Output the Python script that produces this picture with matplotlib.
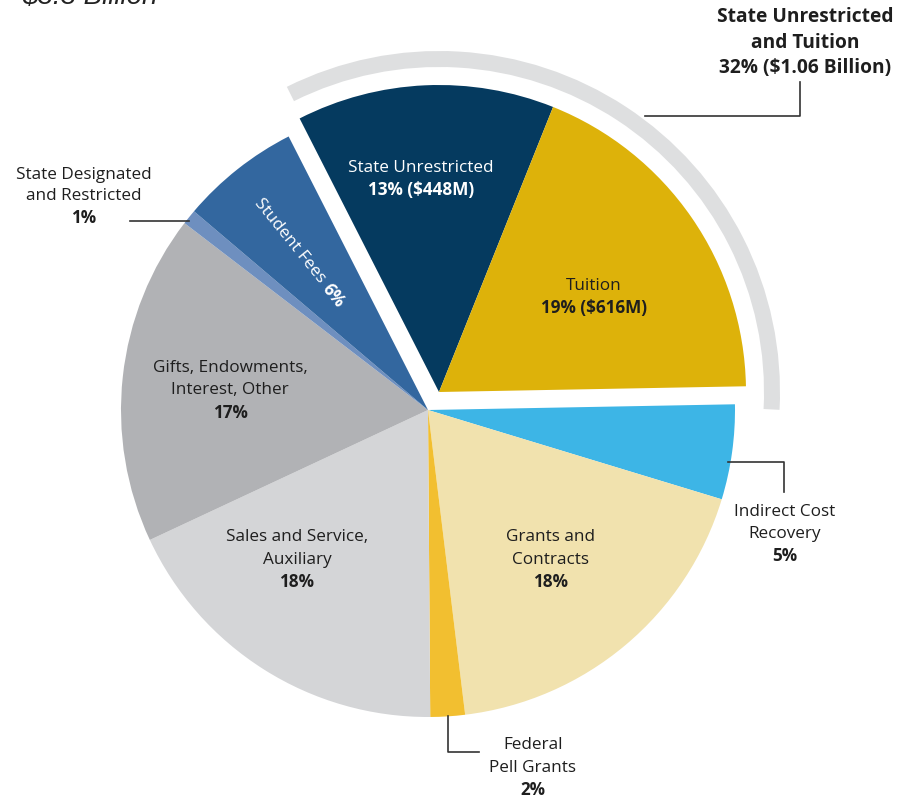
import numpy as np
import matplotlib
matplotlib.use("Agg")
import matplotlib.pyplot as plt
from matplotlib.patches import Wedge

plt.rcParams['font.family'] = ['Open Sans', 'DejaVu Sans']

# revenue sources, $M (clockwise from the top-left)
sources = ['State Unrestricted', 'Tuition', 'Indirect Cost Recovery', 'Grants and Contracts',
           'Federal Pell Grants', 'Sales and Service, Auxiliary', 'Gifts, Endowments, Interest, Other',
           'State Designated and Restricted', 'Student Fees']
amounts = [448, 616, 165, 607, 60, 600, 574, 26, 208]
pcts = ['13%', '19%', '5%', '18%', '2%', '18%', '17%', '1%', '6%']
colors = ['#053a5f', '#ddb20a', '#3db5e6', '#f1e2ae', '#f2bf30', '#d4d5d7', '#b1b2b5', '#6e8fbf', '#33679f']

H = 801
def py(y):
    return H - y

fig = plt.figure(figsize=(9.03, 8.01), dpi=100)
ax = fig.add_axes([0, 0, 1, 1])
ax.axis('off')

cx, cy, r = 428, py(410), 307
wedges, _ = ax.pie(amounts, colors=colors, startangle=117, counterclock=False,
                   radius=r, center=(cx, cy), wedgeprops=dict(linewidth=0))
ax.set_xlim(0, 903)
ax.set_ylim(0, H)
ax.set_aspect('equal')

# pull out the state unrestricted + tuition group together
ex, ey = cx + 11, cy + 18
wedges[0].set_center((ex, ey))
wedges[1].set_center((ex, ey))

# grey bracket arc round the group
ax.add_patch(Wedge((ex, ey), 341, -3, 116.5, width=16, color='#dedfe0', lw=0))

txt = '#1e1e1e'
fs = 12.3

def label(x, y, lines, bold_last=True, color=txt, bold_all=False, size=fs, gap=22.5):
    for i, s in enumerate(lines):
        w = 'bold' if (bold_all or (bold_last and i == len(lines) - 1)) else 'normal'
        ax.text(x, py(y + i * gap), s, ha='center', va='center', fontsize=size,
                fontweight=w, color=color)

label(421, 168, ['State Unrestricted', pcts[0] + ' ($448M)'], color='white')
label(594, 286, ['Tuition', pcts[1] + ' ($616M)'])
label(230, 368, ['Gifts, Endowments,', 'Interest, Other', pcts[6]])
label(297, 537, ['Sales and Service,', 'Auxiliary', pcts[5]])
label(551, 537, ['Grants and', 'Contracts', pcts[3]])

# outside labels
label(84, 175, ['State Designated', 'and Restricted', pcts[7]], gap=21.5)
label(785, 512, ['Indirect Cost', 'Recovery', pcts[2]], gap=22)
label(533, 745, ['Federal', 'Pell Grants', pcts[4]], gap=22.5)
label(805, 17, ['State Unrestricted', 'and Tuition', '32% ($1.06 Billion)'],
      bold_all=True, size=13.8, gap=25.5)

# student fees, rotated along the wedge
rot = -51
ux, uy = np.cos(np.radians(rot)), np.sin(np.radians(rot))
t1 = ax.text(0, 0, 'Student Fees', ha='left', va='center', fontsize=fs, color='white',
             rotation_mode='anchor')
t2 = ax.text(0, 0, pcts[8], ha='left', va='center', fontsize=fs, color='white',
             fontweight='bold', rotation_mode='anchor')
rend = fig.canvas.get_renderer()
w1 = t1.get_window_extent(rend).width
w2 = t2.get_window_extent(rend).width
sp = 0.3 * fs * 100 / 72
total = w1 + sp + w2
mx, my = 299, py(253)
sx, sy = mx - ux * total / 2, my - uy * total / 2
t1.set_position((sx, sy))
t1.set_rotation(rot)
t2.set_position((sx + ux * (w1 + sp), sy + uy * (w1 + sp)))
t2.set_rotation(rot)

# leader lines
lc, lw = '#333333', 1.2
ax.plot([645, 800, 800], [py(116), py(116), py(82)], color=lc, lw=lw)
ax.plot([130, 189], [py(221), py(221)], color=lc, lw=lw)
ax.plot([728, 784, 784], [py(462), py(462), py(492)], color=lc, lw=lw)
ax.plot([448, 448, 479], [py(716), py(752), py(752)], color=lc, lw=lw)

# title, cut at the top edge
fig.text(22, H - 4, '$3.3 Billion', transform=None, ha='left', va='baseline',
         fontsize=20, style='italic', family='Liberation Sans', color='#222222')

fig.savefig('out.png', dpi=100)
